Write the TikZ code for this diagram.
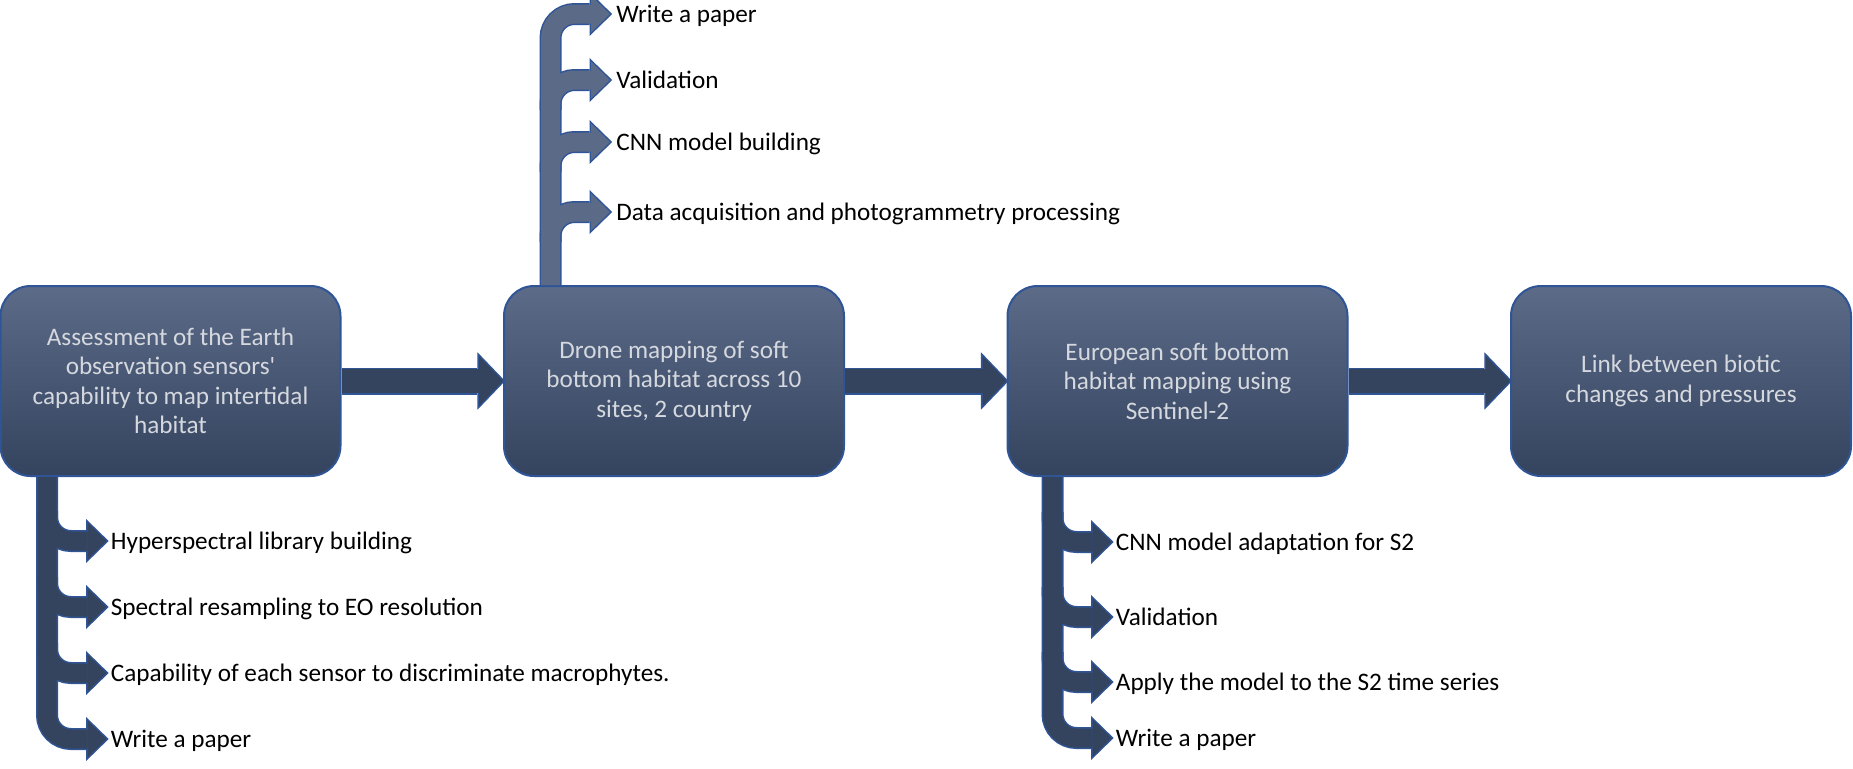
\documentclass[tikz,border=0pt]{standalone}
\usepackage{fontspec}
\setmainfont{Carlito}
\usepackage{xcolor}
\usetikzlibrary{positioning,calc,arrows.meta}

\definecolor{boxtop}{HTML}{5B6B88}
\definecolor{boxbottom}{HTML}{34435E}
\definecolor{boxline}{HTML}{2F5597}
\definecolor{boxtext}{HTML}{D5D8DE}
\definecolor{darkarrow}{HTML}{35445E}
\definecolor{lightarrow}{HTML}{5A6A87}

\begin{document}
\begin{tikzpicture}[x=0.5pt, y=-0.5pt, node distance=251.75pt,
    every node/.style={font=\fontsize{12.6}{14.7}\selectfont},
    stage/.style={rectangle, rounded corners=15pt, draw=boxline, line width=1pt,
                  top color=boxtop, bottom color=boxbottom, text=boxtext, align=center,
                  minimum width=170pt, minimum height=95pt},
    item/.style={anchor=west, inner sep=2pt, text height=8pt, text depth=0pt},
    rim/.style={draw=boxline, line width=11pt, rounded corners=12pt, shorten >=-1.08pt,
                -{Triangle[width=22.06pt, length=11.33pt, line width=0pt]}},
    darkcore/.style={draw=darkarrow, line width=9.5pt, rounded corners=12pt,
                -{Triangle[width=18.5pt, length=9.5pt, line width=0pt]}},
    lightcore/.style={darkcore, draw=lightarrow},
    bigrim/.style={draw=boxline, line width=13.5pt, shorten >=-1.04pt,
                -{Triangle[width=28.7pt, length=13.8pt, line width=0pt]}},
    bigcore/.style={draw=darkarrow, line width=12pt,
                -{Triangle[width=25pt, length=12pt, line width=0pt]}}]

\useasboundingbox (0,0) rectangle (1853,768);

% Main stages
\node[stage] (eo) at (170.5,381) {Assessment of the Earth\\observation sensors\textquotesingle\\capability to map intertidal\\habitat};
\node[stage, right of=eo] (drone) {Drone mapping of soft\\bottom habitat across 10\\sites, 2 country};
\node[stage, right of=drone] (europe) {European soft bottom\\habitat mapping using\\Sentinel-2};
\node[stage, right of=europe] (link) {Link between biotic\\changes and pressures};

% Tasks of the first stage
\node[item] (hyper) at ([shift={(107,64)}]eo.south west) {Hyperspectral library building};
\node[item, below=33pt of hyper.west, anchor=west] (resamp) {Spectral resampling to EO resolution};
\node[item, below=33pt of resamp.west, anchor=west] (capab) {Capability of each sensor to discriminate macrophytes.};
\node[item, below=33pt of capab.west, anchor=west] (eopaper) {Write a paper};

% Tasks of the drone stage
\node[item, inner xsep=3pt] (drdata) at ([shift={(107,-73)}]drone.north west) {Data acquisition and photogrammetry processing};
\node[item, inner xsep=3pt, above=35pt of drdata.west, anchor=west] (drcnn) {CNN model building};
\node[item, inner xsep=3pt, above=31pt of drcnn.west, anchor=west] (drvalid) {Validation};
\node[item, inner xsep=3pt, above=33pt of drvalid.west, anchor=west] (drpaper) {Write a paper};

% Tasks of the European stage
\node[item] (eucnn) at ([shift={(105,65)}]europe.south west) {CNN model adaptation for S2};
\node[item, below=37.5pt of eucnn.west, anchor=west] (euvalid) {Validation};
\node[item, below=32.5pt of euvalid.west, anchor=west] (euapply) {Apply the model to the S2 time series};
\node[item, below=28pt of euapply.west, anchor=west] (eupaper) {Write a paper};

% Stems
\coordinate (eostem) at ([xshift=23.75pt]eo.south west);
\coordinate (dronestem) at ([xshift=23.75pt]drone.north west);
\coordinate (eustem) at ([xshift=23pt]europe.south west);

% Connections
\foreach \s in {bigrim,bigcore} {
  \draw[\s] (eo) -- (drone);
  \draw[\s] (drone) -- (europe);
  \draw[\s] (europe) -- (link);
}

\foreach \s in {rim,darkcore} {
  \draw[\s] (eostem) |- (eopaper.west);
  \foreach \n in {hyper,resamp,capab}
    \draw[\s] ($(eostem |- \n.west)+(0,-30)$) |- (\n.west);
  \draw[\s] (eustem) |- (eupaper.west);
  \foreach \n in {eucnn,euvalid,euapply}
    \draw[\s] ($(eustem |- \n.west)+(0,-30)$) |- (\n.west);
}

\foreach \s in {rim,lightcore} {
  \draw[\s] (dronestem) |- (drpaper.west);
  \foreach \n in {drdata,drcnn,drvalid}
    \draw[\s] ($(dronestem |- \n.west)+(0,30)$) |- (\n.west);
}

\end{tikzpicture}
\end{document}
